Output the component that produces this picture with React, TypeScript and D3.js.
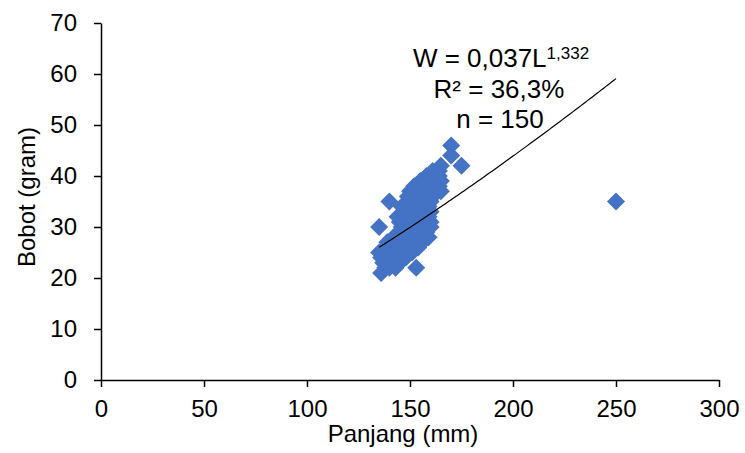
import React, { useEffect, useRef } from "react";
import * as d3 from "d3";

// Panjang (mm) and Bobot (gram), one line per group of points
const panjang = [
  250, 170, 175, 170, 140, 135, 135, 136, 153,
  152, 158, 165, 163, 165, 165, 162, 160, 160, 160, 160, 159, 156, 154, 151, 148, 145,
  143, 140, 138, 137, 136, 138, 139, 142, 145, 145, 144, 146, 149, 150, 155, 161, 164,
  141, 143, 146,
  139, 142, 144, 147,
  140, 143, 145, 149, 152,
  141, 144, 147, 150, 153,
  143, 146, 149, 151, 155, 157,
  145, 148, 150, 153, 158,
  147, 149, 152, 154, 156,
  146, 148, 151, 153, 155, 157, 158,
  147, 150, 152, 154, 156,
  146, 148, 151, 153, 155, 157, 159,
  147, 149, 152, 154, 156, 158,
  148, 150, 153, 155, 157, 159,
  150, 152, 154, 156, 158,
  151, 153, 155, 157, 159, 161,
  152, 154, 156, 158, 160, 163,
  154, 156, 158, 160, 162, 164,
  157, 159, 161, 163,
  160, 162,
  161, 164,
  150, 152, 154, 156, 148, 150, 153, 155, 157, 151, 149, 146,
];
const bobot = [
  35, 46, 42, 44, 35, 30, 25, 21, 22,
  38, 40, 42, 41, 39, 37, 37, 35, 33, 31, 30, 28, 27, 26, 25, 24, 23,
  22, 22, 22, 23, 24, 26, 27, 28, 29, 31, 32, 34, 36, 37, 39, 40, 40,
  23, 23, 24,
  24, 24, 24, 25,
  25, 25, 25, 25, 26,
  26, 26, 26, 26, 27,
  27, 27, 27, 27, 28, 28,
  28, 28, 28, 28, 29,
  29, 29, 29, 29, 29,
  30, 30, 30, 30, 30, 30, 31,
  31, 31, 31, 31, 31,
  32, 32, 32, 32, 32, 32, 32,
  33, 33, 33, 33, 33, 33,
  34, 34, 34, 34, 34, 34,
  35, 35, 35, 35, 35,
  36, 36, 36, 36, 36, 36,
  37, 37, 37, 37, 37, 37,
  38, 38, 38, 38, 38, 38,
  39, 39, 39, 39,
  40, 40,
  41, 41,
  30, 32, 34, 34, 31, 33, 35, 37, 38, 29, 28, 26,
];

const xTicks = [0, 50, 100, 150, 200, 250, 300];
const yTicks = [0, 10, 20, 30, 40, 50, 60, 70];

// power trend W = a * L^b (label shows the rounded a)
const coefA = 0.0378;
const coefB = 1.332;
const fitRange = [135, 250];

const font = "'Liberation Sans', Arial, sans-serif";

export default function App() {
  const ref = useRef<SVGSVGElement>(null);

  useEffect(() => {
    if (!ref.current) return;
    const svg = d3.select(ref.current);
    svg.selectAll("*").remove();

    const x = d3.scaleLinear().domain([0, 300]).range([101, 719]);
    const y = d3.scaleLinear().domain([0, 70]).range([380, 23]);

    // points
    const pts = panjang.map((p, i) => [p, bobot[i]]);
    const diamond = d3.symbol().type(d3.symbolSquare).size(162);
    svg
      .append("g")
      .selectAll("path")
      .data(pts)
      .join("path")
      .attr("d", diamond)
      .attr("transform", (d) => `translate(${x(d[0])},${y(d[1])}) rotate(45)`)
      .attr("fill", "#4472C4");

    // trend line
    const fit = d3.range(fitRange[0], fitRange[1] + 1, 1).map((L) => [L, coefA * Math.pow(L, coefB)]);
    svg
      .append("path")
      .datum(fit)
      .attr("d", d3.line().x((d) => x(d[0])).y((d) => y(d[1])))
      .attr("fill", "none")
      .attr("stroke", "#000")
      .attr("stroke-width", 1.2);

    // axes
    const gx = svg
      .append("g")
      .attr("transform", `translate(0,${y(0)})`)
      .call(d3.axisBottom(x).tickValues(xTicks).tickSize(7).tickPadding(13).tickSizeOuter(0));
    const gy = svg
      .append("g")
      .attr("transform", `translate(${x(0)},0)`)
      .call(d3.axisLeft(y).tickValues(yTicks).tickSize(7).tickPadding(17).tickSizeOuter(0));
    [gx, gy].forEach((g) => {
      g.select(".domain").attr("stroke", "#000").attr("stroke-width", 1.5);
      g.selectAll(".tick line").attr("stroke", "#000").attr("stroke-width", 1.5);
      g.selectAll("text").attr("fill", "#000").style("font", `24px ${font}`);
    });

    // axis titles
    svg
      .append("text")
      .attr("x", 403)
      .attr("y", 442)
      .attr("text-anchor", "middle")
      .style("font", `24px ${font}`)
      .text("Panjang (mm)");
    svg
      .append("text")
      .attr("transform", "translate(35,197) rotate(-90)")
      .attr("text-anchor", "middle")
      .style("font", `24px ${font}`)
      .text("Bobot (gram)");

    // equation
    const eq = svg
      .append("text")
      .attr("x", 501)
      .attr("y", 67)
      .attr("text-anchor", "middle")
      .style("font", `26px ${font}`);
    eq.append("tspan").text("W = 0,037L");
    eq.append("tspan").attr("dy", -8).style("font-size", "17px").text("1,332");
    svg
      .append("text")
      .attr("x", 499)
      .attr("y", 98)
      .attr("text-anchor", "middle")
      .style("font", `26px ${font}`)
      .text("R² = 36,3%");
    svg
      .append("text")
      .attr("x", 500)
      .attr("y", 128)
      .attr("text-anchor", "middle")
      .style("font", `26px ${font}`)
      .text("n = 150");
  }, []);

  return (
    <svg
      ref={ref}
      width={745}
      height={453}
      style={{ position: "absolute", left: 0, top: 0, background: "#fff" }}
    />
  );
}
